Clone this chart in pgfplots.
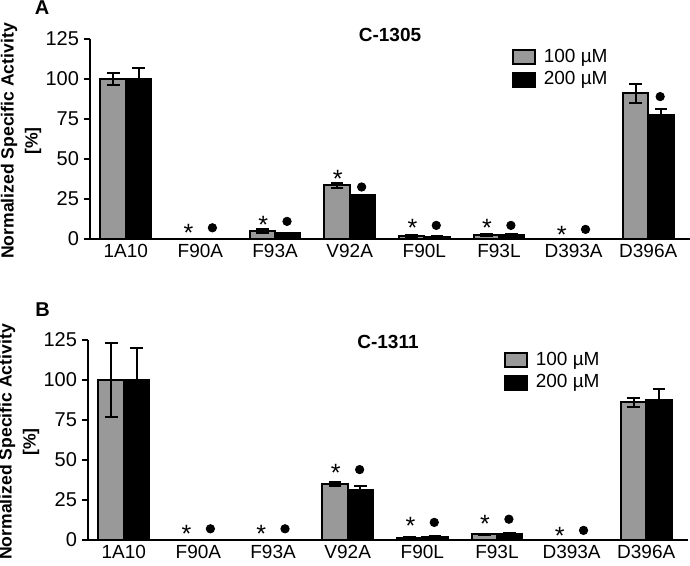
\documentclass[border=0pt]{standalone}
\usepackage{fontspec}
\setmainfont{Liberation Sans}
\usepackage{pgfplots}
\pgfplotsset{compat=1.18}
\definecolor{bargray}{RGB}{153,153,153}
\pgfplotsset{
  panel/.style={
    scale only axis, width=300pt, height=100pt,
    axis lines*=left,
    axis line style={line width=1.2pt},
    xmin=-0.48, xmax=7.56, ymin=0, ymax=125,
    ytick={0,25,50,75,100,125},
    xtick={0,1,2,3,4,5,6,7},
    xticklabels={1A10,F90A,F93A,V92A,F90L,F93L,D393A,D396A},
    tick align=outside,
    major tick length=3pt,
    ytick style={line width=1.2pt,black},
    xtick style={draw=none},
    tick label style={font=\fontsize{9.5}{11}\selectfont},
    yticklabel style={font=\fontsize{10}{11}\selectfont, xshift=1pt},
    /pgf/number format/assume math mode=true,
    xticklabel style={yshift=4pt},
    ylabel={Normalized Specific Activity\\{}[\%]},
    ylabel style={at={(axis description cs:-0.115,0.49)}, anchor=center, align=center, font=\bfseries\fontsize{8.8}{12}\selectfont},
    every axis title shift=0pt,
    title style={at={(0.5,1)}, anchor=center, font=\bfseries\fontsize{9.5}{11}\selectfont},
    clip=false,
    legend style={draw=none, fill=none, inner sep=0pt, outer sep=0pt, font=\fontsize{9.5}{10}\selectfont, row sep=1.2pt,
      nodes={inner sep=1pt}},
    legend cell align=left,
    legend image code/.code={\draw[#1, line width=1pt] (0pt,-3.6pt) rectangle (11pt,3.6pt);},
  },
  gbar/.style={ybar, bar width=0.34, bar shift=0, fill=bargray, draw=black, line width=1pt,
    error bars/.cd, y dir=both, y explicit, error mark options={rotate=90, mark size=3.2pt, line width=1pt}, error bar style={line width=1pt}},
  bbar/.style={ybar, bar width=0.34, bar shift=0, fill=black, draw=black, line width=1pt,
    error bars/.cd, y dir=both, y explicit, error mark options={rotate=90, mark size=3.2pt, line width=1pt}, error bar style={line width=1pt}},
  star/.style={only marks, mark=text, text mark={*}, text mark as node=true, text mark style={font=\fontsize{12.5}{12}\selectfont, inner sep=0pt, yshift=-2.6pt}, forget plot},
  dot/.style={only marks, mark=*, mark size=2.1pt, black, forget plot},
}
\begin{document}
\begin{tikzpicture}
\useasboundingbox (0,0) rectangle (345pt,283pt);
% Panel A
\begin{axis}[panel, at={(45pt,163.5pt)}, anchor=south west, title={C-1305}, title style={yshift=2pt},
  legend style={at={(0.703,0.96)}, anchor=north west}]
\addplot[gbar] coordinates {
 (-0.17,100) +- (0,4)
 (1.83,5) +- (0,1)
 (2.83,33.5) +- (0,1.5)
 (3.83,2) +- (0,0.5)
 (4.83,2.5) +- (0,0.5)
 (6.83,91) +- (0,6)
};
\addlegendentry{\hspace{3pt}100 µM}
\addplot[bbar] coordinates {
 (0.17,100) +- (0,7)
 (2.17,3.5) +- (0,0.5)
 (3.17,27.5) +- (0,0)
 (4.17,1.5) +- (0,0.3)
 (5.17,2.5) +- (0,0.5)
 (7.17,77.5) +- (0,3.5)
};
\addlegendentry{\hspace{3pt}200 µM}
\addplot[star] coordinates {(0.84,7) (1.84,12) (2.84,40.5) (3.84,10) (4.84,10) (5.84,5.5)};
\addplot[dot] coordinates {(1.16,7) (2.16,11) (3.16,32.5) (4.16,8.5) (5.16,8.5) (6.16,6) (7.16,89)};
\node[font=\bfseries\fontsize{10}{12}\selectfont] at ([xshift=-24pt,yshift=15.5pt]rel axis cs:0,1) {A};
\end{axis}
% Panel B
\begin{axis}[panel, at={(44pt,13pt)}, anchor=south west, title={C-1311}, title style={yshift=-1pt},
  legend style={at={(0.693,0.95)}, anchor=north west}]
\addplot[gbar] coordinates {
 (-0.17,100) +- (0,23)
 (2.83,35) +- (0,1.5)
 (3.83,1.5) +- (0,0.2)
 (4.83,3.5) +- (0,0.5)
 (6.83,86) +- (0,3)
};
\addlegendentry{\hspace{3pt}100 µM}
\addplot[bbar] coordinates {
 (0.17,100) +- (0,20)
 (3.17,31) +- (0,3)
 (4.17,2) +- (0,0.3)
 (5.17,4) +- (0,0.5)
 (7.17,87.5) +- (0,7)
};
\addlegendentry{\hspace{3pt}200 µM}
\addplot[star] coordinates {(0.84,7) (1.84,7) (2.84,45) (3.84,12) (4.84,13) (5.84,6)};
\addplot[dot] coordinates {(1.16,7) (2.16,7) (3.16,44) (4.16,11) (5.16,13) (6.16,6)};
\node[font=\bfseries\fontsize{10}{12}\selectfont] at ([xshift=-22.75pt,yshift=15pt]rel axis cs:0,1) {B};
\end{axis}
\end{tikzpicture}
\end{document}
